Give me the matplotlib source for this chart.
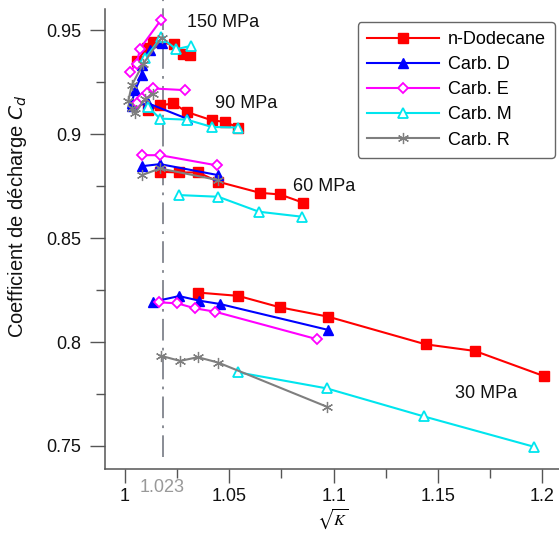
import numpy as np
import matplotlib
matplotlib.use("Agg")
import matplotlib.pyplot as plt

plt.rcParams["font.family"] = ["Liberation Sans", "DejaVu Sans"]

# --------------------------------------------------------------------------- #
# Data, x = sqrt(K), y = Cd
# --------------------------------------------------------------------------- #
# n-Dodecane
dod_150_x = [1.0056, 1.0104, 1.0136, 1.0235, 1.0278, 1.0312]
dod_150_y = [0.9351, 0.9413, 0.9442, 0.9433, 0.9385, 0.9380]
dod_90_x  = [1.0112, 1.0168, 1.0232, 1.0296, 1.0416, 1.0479, 1.0543]
dod_90_y  = [0.9115, 0.9139, 0.9148, 0.9107, 0.9067, 0.9059, 0.9032]
dod_60_x  = [1.0168, 1.0260, 1.0351, 1.0447, 1.0647, 1.0743, 1.0855]
dod_60_y  = [0.8819, 0.8816, 0.8816, 0.8771, 0.8718, 0.8710, 0.8670]
dod_30_x  = [1.0351, 1.0543, 1.0743, 1.0974, 1.1441, 1.1678, 1.2009]
dod_30_y  = [0.8238, 0.8222, 0.8167, 0.8122, 0.7989, 0.7957, 0.7836]

# Carb. D
cd_150_x = [1.0032, 1.0048, 1.0080, 1.0080, 1.0120, 1.0176]
cd_150_y = [0.9150, 0.9212, 0.9284, 0.9332, 0.9404, 0.9437]
cd_90_x  = [1.0032, 1.0112, 1.0296]
cd_90_y  = [0.9135, 0.9148, 0.9075]
cd_60_x  = [1.0080, 1.0168, 1.0447]
cd_60_y  = [0.8846, 0.8856, 0.8803]
cd_30_x  = [1.0136, 1.0259, 1.0356, 1.0455, 1.0975]
cd_30_y  = [0.8194, 0.8221, 0.8199, 0.8183, 0.8058]

# Carb. E
ce_150_x = [1.0024, 1.0056, 1.0072, 1.0171]
ce_150_y = [0.9300, 0.9340, 0.9412, 0.9548]
ce_90_x  = [1.0056, 1.0080, 1.0104, 1.0136, 1.0288]
ce_90_y  = [0.9148, 0.9172, 0.9196, 0.9220, 0.9212]
ce_60_x  = [1.0080, 1.0168, 1.0440]
ce_60_y  = [0.8899, 0.8899, 0.8850]
ce_30_x  = [1.0165, 1.0251, 1.0336, 1.0431, 1.0919]
ce_30_y  = [0.8191, 0.8186, 0.8162, 0.8146, 0.8014]

# Carb. M
cm_150_x = [1.0096, 1.0173, 1.0245, 1.0316]
cm_150_y = [0.9365, 0.9466, 0.9409, 0.9425]
cm_90_x  = [1.0112, 1.0168, 1.0296, 1.0416, 1.0543]
cm_90_y  = [0.9130, 0.9075, 0.9070, 0.9035, 0.9032]
cm_60_x  = [1.0260, 1.0447, 1.0642, 1.0848]
cm_60_y  = [0.8707, 0.8699, 0.8627, 0.8603]
cm_30_x  = [1.0543, 1.0967, 1.1433, 1.1961]
cm_30_y  = [0.7854, 0.7777, 0.7642, 0.7496]

# Carb. R
cr_150_x = [1.0016, 1.0032, 1.0088, 1.0176]
cr_150_y = [0.9160, 0.9236, 0.9340, 0.9465]
cr_90_x  = [1.0032, 1.0048, 1.0096, 1.0136]
cr_90_y  = [0.9125, 0.9100, 0.9170, 0.9195]
cr_60_x  = [1.0080, 1.0168, 1.0447]
cr_60_y  = [0.8803, 0.8835, 0.8779]
cr_30_x  = [1.0171, 1.0264, 1.0349, 1.0447, 1.0967]
cr_30_y  = [0.7934, 0.7909, 0.7927, 0.7901, 0.7689]

LABELS = ["n-Dodecane", "Carb. D", "Carb. E", "Carb. M", "Carb. R"]
PRESSURE_LABELS = ["150 MPa", "90 MPa", "60 MPa", "30 MPa"]
PRESSURE_POS = [(1.0295, 0.9538), (1.0430, 0.9150), (1.0805, 0.8750), (1.1580, 0.7752)]
K_REF = 1.018        # where the reference line sits on the plot
K_REF_LABEL = "1.023"

# --------------------------------------------------------------------------- #
# Plot
# --------------------------------------------------------------------------- #
W, H = 559, 533
fig = plt.figure(figsize=(W / 100, H / 100), dpi=100)
ax = fig.add_axes([104.6 / W, (H - 469) / H, (W - 104.6) / W, (469 - 9.3) / H])

styles = [
    dict(color="#ff0000", marker="s", ms=6.5, mfc="#ff0000", mec="#ff0000"),
    dict(color="#0000ff", marker="^", ms=6.5, mfc="#0000ff", mec="#0000ff"),
    dict(color="#ff00ff", marker="D", ms=5.5, mfc="white", mec="#ff00ff", mew=1.3),
    dict(color="#00e5ee", marker="^", ms=7, mfc="white", mec="#00e5ee", mew=1.3),
    dict(color="#7f7f7f", marker=(6, 2, 0), ms=8, mec="#7f7f7f", mew=0.9),
]
series = [
    [(dod_150_x, dod_150_y), (dod_90_x, dod_90_y), (dod_60_x, dod_60_y), (dod_30_x, dod_30_y)],
    [(cd_150_x, cd_150_y), (cd_90_x, cd_90_y), (cd_60_x, cd_60_y), (cd_30_x, cd_30_y)],
    [(ce_150_x, ce_150_y), (ce_90_x, ce_90_y), (ce_60_x, ce_60_y), (ce_30_x, ce_30_y)],
    [(cm_150_x, cm_150_y), (cm_90_x, cm_90_y), (cm_60_x, cm_60_y), (cm_30_x, cm_30_y)],
    [(cr_150_x, cr_150_y), (cr_90_x, cr_90_y), (cr_60_x, cr_60_y), (cr_30_x, cr_30_y)],
]
for label, st, groups in zip(LABELS, styles, series):
    for i, (x, y) in enumerate(groups):
        ax.plot(x, y, lw=1.5, label=label if i == 0 else None, **st)

# reference sqrt(K) line
ax.plot([K_REF, K_REF], [0.7447, 0.9645], color="#80848c", lw=1.3,
        ls=(0, (12, 4, 1.5, 4)), clip_on=False, zorder=0)
ax.text(K_REF, -0.040, K_REF_LABEL, transform=ax.get_xaxis_transform(),
        ha="center", va="center", color="#999999", fontsize=13)

for txt, (px, py) in zip(PRESSURE_LABELS, PRESSURE_POS):
    ax.text(px, py, txt, ha="left", va="center", fontsize=13, color="#111111")

ax.set_xlim(0.9902, 1.2081)
ax.set_ylim(0.7389, 0.9601)
ax.set_xticks([1, 1.05, 1.1, 1.15, 1.2], ["1", "1.05", "1.1", "1.15", "1.2"])
ax.set_xticks([1.025, 1.075, 1.125, 1.175], minor=True)
ax.set_yticks([0.75, 0.8, 0.85, 0.9, 0.95], ["0.75", "0.8", "0.85", "0.9", "0.95"])
ax.set_yticks([0.775, 0.825, 0.875, 0.925], minor=True)
ax.tick_params(which="major", direction="out", length=11, width=1, color="#555555",
               labelsize=13, labelcolor="#111111")
ax.tick_params(which="minor", direction="out", length=6.5, width=1, color="#555555")
ax.tick_params(axis="x", which="major", length=10, pad=3.5)
ax.tick_params(axis="y", which="major", pad=6)
for side in ["top", "right"]:
    ax.spines[side].set_visible(False)
for side in ["left", "bottom"]:
    ax.spines[side].set_color("#555555")
    ax.spines[side].set_linewidth(1.1)

fig.text(18 / W, 1 - 216 / H, "Coefficient de décharge $C_d$", rotation=90,
         ha="center", va="center", fontsize=14.5, color="#111111",
         math_fontfamily="dejavusans")
fig.text(333 / W, 1 / H, r"$\sqrt{K}$", ha="center", va="bottom",
         fontsize=11.5, math_fontfamily="stix")

leg = ax.legend(loc="upper right", bbox_to_anchor=(555 / W, 1 - 22 / H),
                bbox_transform=fig.transFigure, borderaxespad=0, fontsize=13,
                numpoints=1, handlelength=4.0, labelspacing=0.45, handletextpad=0.5,
                fancybox=True, framealpha=1, edgecolor="#666666", borderpad=0.5)
leg.get_frame().set_linewidth(1.0)

fig.savefig("out.png", dpi=100, facecolor="white")
